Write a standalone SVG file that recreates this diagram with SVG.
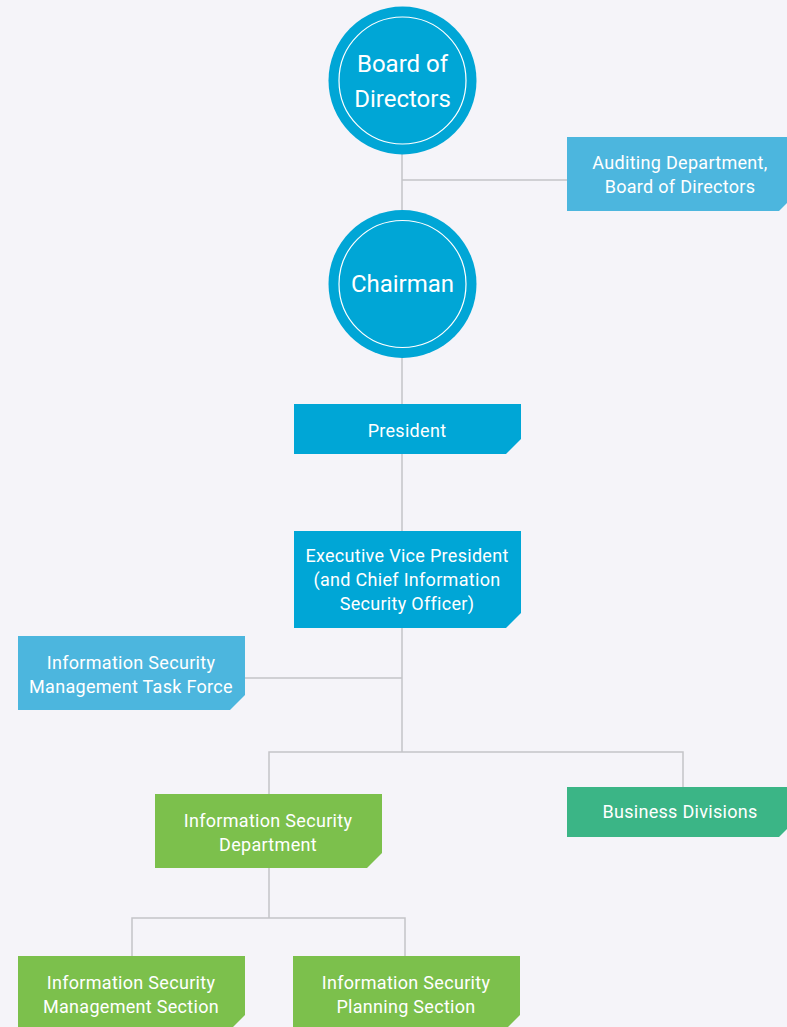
<svg xmlns="http://www.w3.org/2000/svg" width="787" height="1027" viewBox="0 0 787 1027">
  <style>
    .bg { fill: #f5f4f9; }
    .line { fill: none; stroke: #c4c4c8; stroke-width: 1.5; }
    .dark { fill: #00a6d6; }
    .light { fill: #4cb6de; }
    .green { fill: #7cc04c; }
    .teal { fill: #3bb586; }
    .ring { fill: none; stroke: #ffffff; stroke-width: 1.2; }
    text { font-family: Roboto, "Liberation Sans", sans-serif; fill: #ffffff; text-anchor: middle; }
    .big { font-size: 24px; }
    .lbl { font-size: 18px; letter-spacing: 0.3px; }
  </style>
  <defs>
    <!-- 227-wide boxes with a clipped lower-right corner -->
    <path id="box74" d="M0 0H227V59L212 74H0Z"/>
    <path id="box50" d="M0 0H227V35L212 50H0Z"/>
    <path id="box97" d="M0 0H227V82L212 97H0Z"/>
  </defs>

  <rect class="bg" x="0" y="0" width="787" height="1027"/>

  <g id="connectors">
    <path class="line" d="M402 150V214M402 180H567"/>
    <path class="line" d="M402 354V404M402 454V531"/>
    <path class="line" d="M402 628V752M245 678H402"/>
    <path class="line" d="M269 794V752H683V787"/>
    <path class="line" d="M269 868V918M132 956V918H405V956"/>
  </g>

  <g id="board">
    <circle class="dark" cx="402.5" cy="80.5" r="74"/>
    <circle class="ring" cx="402.5" cy="80.5" r="63.5"/>
    <text class="big" x="402.5" y="72">Board of</text>
    <text class="big" x="402.5" y="107">Directors</text>
  </g>

  <g id="auditing">
    <use href="#box74" class="light" x="567" y="137"/>
    <text class="lbl" x="680" y="169">Auditing Department,</text>
    <text class="lbl" x="680" y="193">Board of Directors</text>
  </g>

  <g id="chairman">
    <circle class="dark" cx="402.5" cy="284" r="74"/>
    <circle class="ring" cx="402.5" cy="284" r="63.5"/>
    <text class="big" x="402.5" y="292">Chairman</text>
  </g>

  <g id="president">
    <use href="#box50" class="dark" x="294" y="404"/>
    <text class="lbl" x="407" y="437">President</text>
  </g>

  <g id="evp">
    <use href="#box97" class="dark" x="294" y="531"/>
    <text class="lbl" x="407" y="562">Executive Vice President</text>
    <text class="lbl" x="407" y="586">(and Chief Information</text>
    <text class="lbl" x="407" y="610">Security Officer)</text>
  </g>

  <g id="task-force">
    <use href="#box74" class="light" x="18" y="636"/>
    <text class="lbl" x="131" y="669">Information Security</text>
    <text class="lbl" x="131" y="693">Management Task Force</text>
  </g>

  <g id="is-department">
    <use href="#box74" class="green" x="155" y="794"/>
    <text class="lbl" x="268" y="827">Information Security</text>
    <text class="lbl" x="268" y="851">Department</text>
  </g>

  <g id="business-divisions">
    <use href="#box50" class="teal" x="567" y="787"/>
    <text class="lbl" x="680" y="818">Business Divisions</text>
  </g>

  <g id="management-section">
    <use href="#box74" class="green" x="18" y="956"/>
    <text class="lbl" x="131" y="989">Information Security</text>
    <text class="lbl" x="131" y="1013">Management Section</text>
  </g>

  <g id="planning-section">
    <use href="#box74" class="green" x="293" y="956"/>
    <text class="lbl" x="406" y="989">Information Security</text>
    <text class="lbl" x="406" y="1013">Planning Section</text>
  </g>
</svg>
